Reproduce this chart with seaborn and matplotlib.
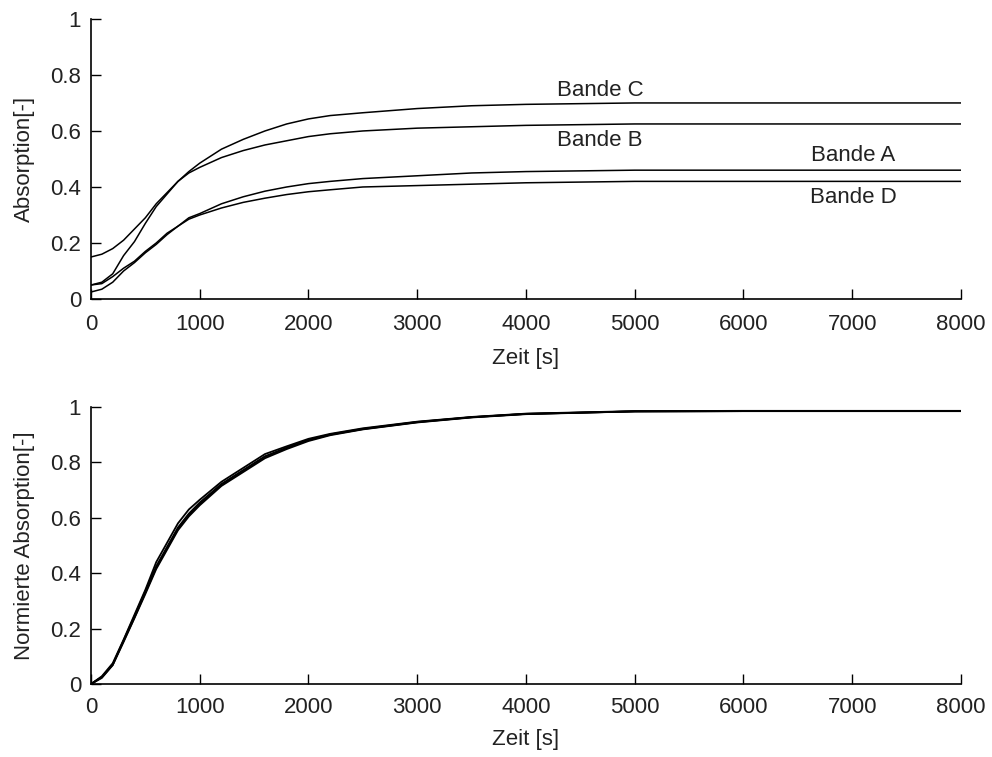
import numpy as np
import pandas as pd
import matplotlib
matplotlib.use("Agg")
import matplotlib.pyplot as plt
import seaborn as sns

# ---- data ----
zeit = [0, 100, 200, 300, 400, 500, 600, 700, 800, 900, 1000, 1200, 1400, 1600,
        1800, 2000, 2200, 2500, 3000, 3500, 4000, 5000, 6000, 7000, 8000]

bande_c = [0.15, 0.16, 0.18, 0.21, 0.25, 0.29, 0.34, 0.38, 0.42, 0.455, 0.485, 0.535,
           0.57, 0.60, 0.625, 0.643, 0.655, 0.665, 0.68, 0.69, 0.695, 0.70, 0.70, 0.70, 0.70]
bande_b = [0.05, 0.06, 0.09, 0.155, 0.205, 0.27, 0.33, 0.375, 0.42, 0.45, 0.47, 0.505,
           0.53, 0.55, 0.565, 0.58, 0.59, 0.60, 0.61, 0.615, 0.62, 0.625, 0.625, 0.625, 0.625]
bande_a = [0.05, 0.055, 0.08, 0.11, 0.135, 0.17, 0.20, 0.235, 0.26, 0.29, 0.305, 0.34,
           0.365, 0.385, 0.40, 0.412, 0.42, 0.43, 0.44, 0.45, 0.455, 0.46, 0.46, 0.46, 0.46]
bande_d = [0.025, 0.035, 0.06, 0.10, 0.13, 0.165, 0.195, 0.23, 0.26, 0.285, 0.30, 0.325,
           0.345, 0.36, 0.373, 0.383, 0.39, 0.40, 0.405, 0.41, 0.415, 0.42, 0.42, 0.42, 0.42]

norm_a = [0.0, 0.025, 0.07, 0.155, 0.24, 0.33, 0.42, 0.49, 0.56, 0.61, 0.65, 0.72,
          0.77, 0.82, 0.852, 0.88, 0.90, 0.92, 0.945, 0.963, 0.975, 0.984, 0.985, 0.985, 0.985]
norm_b = [0.0, 0.028, 0.075, 0.16, 0.25, 0.34, 0.44, 0.51, 0.58, 0.63, 0.665, 0.73,
          0.78, 0.83, 0.858, 0.885, 0.903, 0.923, 0.947, 0.964, 0.976, 0.985, 0.986, 0.986, 0.986]
norm_c = [0.0, 0.025, 0.07, 0.158, 0.245, 0.335, 0.425, 0.495, 0.565, 0.615, 0.655, 0.722,
          0.772, 0.822, 0.853, 0.881, 0.901, 0.921, 0.946, 0.963, 0.975, 0.984, 0.985, 0.985, 0.985]
norm_d = [0.0, 0.022, 0.068, 0.152, 0.238, 0.325, 0.415, 0.485, 0.555, 0.605, 0.645, 0.715,
          0.765, 0.815, 0.848, 0.877, 0.898, 0.919, 0.944, 0.962, 0.974, 0.984, 0.985, 0.985, 0.985]

labels_top = ["Bande C", "Bande B", "Bande A", "Bande D"]
label_pos = [(4680, 0.746), (4680, 0.566), (7010, 0.514), (7010, 0.364)]

yticks = [0, 0.2, 0.4, 0.6, 0.8, 1.0]
ytick_labels = ["0", "0.2", "0.4", "0.6", "0.8", "1"]
xticks = [0, 1000, 2000, 3000, 4000, 5000, 6000, 7000, 8000]

# ---- style ----
sns.set_style("ticks")
plt.rcParams["font.family"] = ["Liberation Sans", "DejaVu Sans"]
plt.rcParams["font.size"] = 16

fig = plt.figure(figsize=(9.92, 7.57), dpi=100)
ax1 = fig.add_axes([0.0917, 0.605, 0.877, 0.370])
ax2 = fig.add_axes([0.0917, 0.0964, 0.877, 0.366])

top_df = pd.DataFrame({"Zeit": zeit * 4,
                       "Absorption": bande_a + bande_b + bande_c + bande_d,
                       "Bande": sum([[b] * len(zeit) for b in ["A", "B", "C", "D"]], [])})
bot_df = pd.DataFrame({"Zeit": zeit * 4,
                       "Norm": norm_a + norm_b + norm_c + norm_d,
                       "Bande": sum([[b] * len(zeit) for b in ["A", "B", "C", "D"]], [])})

pal = {"A": "black", "B": "black", "C": "black", "D": "black"}
sns.lineplot(data=top_df, x="Zeit", y="Absorption", hue="Bande", palette=pal,
             ax=ax1, legend=False, linewidth=1.1)
sns.lineplot(data=bot_df, x="Zeit", y="Norm", hue="Bande", palette=pal,
             ax=ax2, legend=False, linewidth=1.3)

for (lab, (x, y)) in zip(labels_top, label_pos):
    ax1.text(x, y, lab, ha="center", va="center", fontsize=16, color="#222222")

for ax, ylab, xlp, xpad in [(ax1, "Absorption[-]", 10, 10.5), (ax2, "Normierte Absorption[-]", 8, 9.5)]:
    ax.set_xlim(0, 8000)
    ax.set_ylim(0, 1)
    ax.set_xticks(xticks)
    ax.set_xticklabels([str(v) for v in xticks])
    ax.set_yticks(yticks)
    ax.set_yticklabels(ytick_labels)
    ax.set_xlabel("Zeit [s]", fontsize=16, labelpad=xlp, color="#222222")
    ax.set_ylabel(ylab, fontsize=16, labelpad=11, color="#222222")
    ax.tick_params(direction="in", length=7, width=1, labelsize=16,
                   colors="black", labelcolor="#222222")
    ax.tick_params(axis="x", pad=xpad)
    ax.tick_params(axis="y", pad=7)
    for s in ["top", "right"]:
        ax.spines[s].set_visible(False)
    for s in ["left", "bottom"]:
        ax.spines[s].set_linewidth(1.2)
        ax.spines[s].set_color("black")

fig.savefig("out.png", dpi=100)
